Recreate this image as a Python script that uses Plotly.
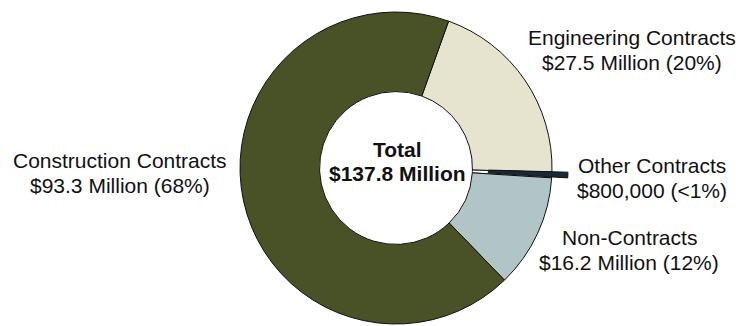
import plotly.graph_objects as go

# ---- data ----
categories = ["Engineering Contracts", "Other Contracts", "Non-Contracts", "Construction Contracts"]
values = [27.5, 0.8, 16.2, 93.3]  # $ millions
value_labels = ["$27.5 Million (20%)", "$800,000 (<1%)", "$16.2 Million (12%)", "$93.3 Million (68%)"]
center_title = "Total"
center_value = "$137.8 Million"

# ---- style ----
W, H = 746, 326
colors = ["#E6E4CF", "#FFFFFF", "#B1C5C6", "#485226"]
pulled_colors = ["rgba(0,0,0,0)", "#1B2838", "rgba(0,0,0,0)", "rgba(0,0,0,0)"]
pulled_line_w = [0, 1, 0, 0]
FONT = "Liberation Sans, Arial, sans-serif"

cx, cy, R = 396, 168, 156
pull_px = 16
hole = 0.49
rotation = 19.7


def dom_x(c):
    return [(c - R) / W, (c + R) / W]


dom_y = [1 - (cy + R) / H, 1 - (cy - R) / H]

fig = go.Figure()
fig.add_trace(go.Pie(
    labels=categories, values=values, sort=False, direction="clockwise",
    rotation=rotation, hole=hole, textinfo="none", hoverinfo="label+value",
    marker=dict(colors=colors, line=dict(color="#111111", width=1)),
    domain=dict(x=dom_x(cx), y=dom_y), showlegend=False,
))
# pulled-out sliver for "Other Contracts"
fig.add_trace(go.Pie(
    labels=categories, values=values, sort=False, direction="clockwise",
    rotation=rotation, hole=hole, textinfo="none", hoverinfo="skip",
    marker=dict(colors=pulled_colors, line=dict(color="#111111", width=pulled_line_w)),
    domain=dict(x=dom_x(cx + pull_px), y=dom_y), showlegend=False,
))

# label positions (pixel centres of each text line)
label_pos = {
    "Engineering Contracts": (632, 37),
    "Other Contracts": (652, 165),
    "Non-Contracts": (629, 237),
    "Construction Contracts": (120, 160),
}
pitch = 25
ann = []
for cat, vl in zip(categories, value_labels):
    x, y = label_pos[cat]
    for i, t in enumerate([cat, vl]):
        ann.append(dict(x=x / W, y=1 - (y + i * pitch) / H, xref="paper", yref="paper",
                        text=t, showarrow=False, xanchor="center", yanchor="middle",
                        font=dict(family=FONT, size=21, color="#111111")))
for i, t in enumerate([center_title, center_value]):
    ann.append(dict(x=397 / W, y=1 - (149 + i * 24) / H, xref="paper", yref="paper",
                    text="<b>" + t + "</b>", showarrow=False, xanchor="center", yanchor="middle",
                    font=dict(family=FONT, size=21, color="#111111")))

fig.update_layout(
    width=W, height=H, margin=dict(l=0, r=0, t=0, b=0),
    paper_bgcolor="white", plot_bgcolor="white", annotations=ann,
)
fig.write_html("out.html")
